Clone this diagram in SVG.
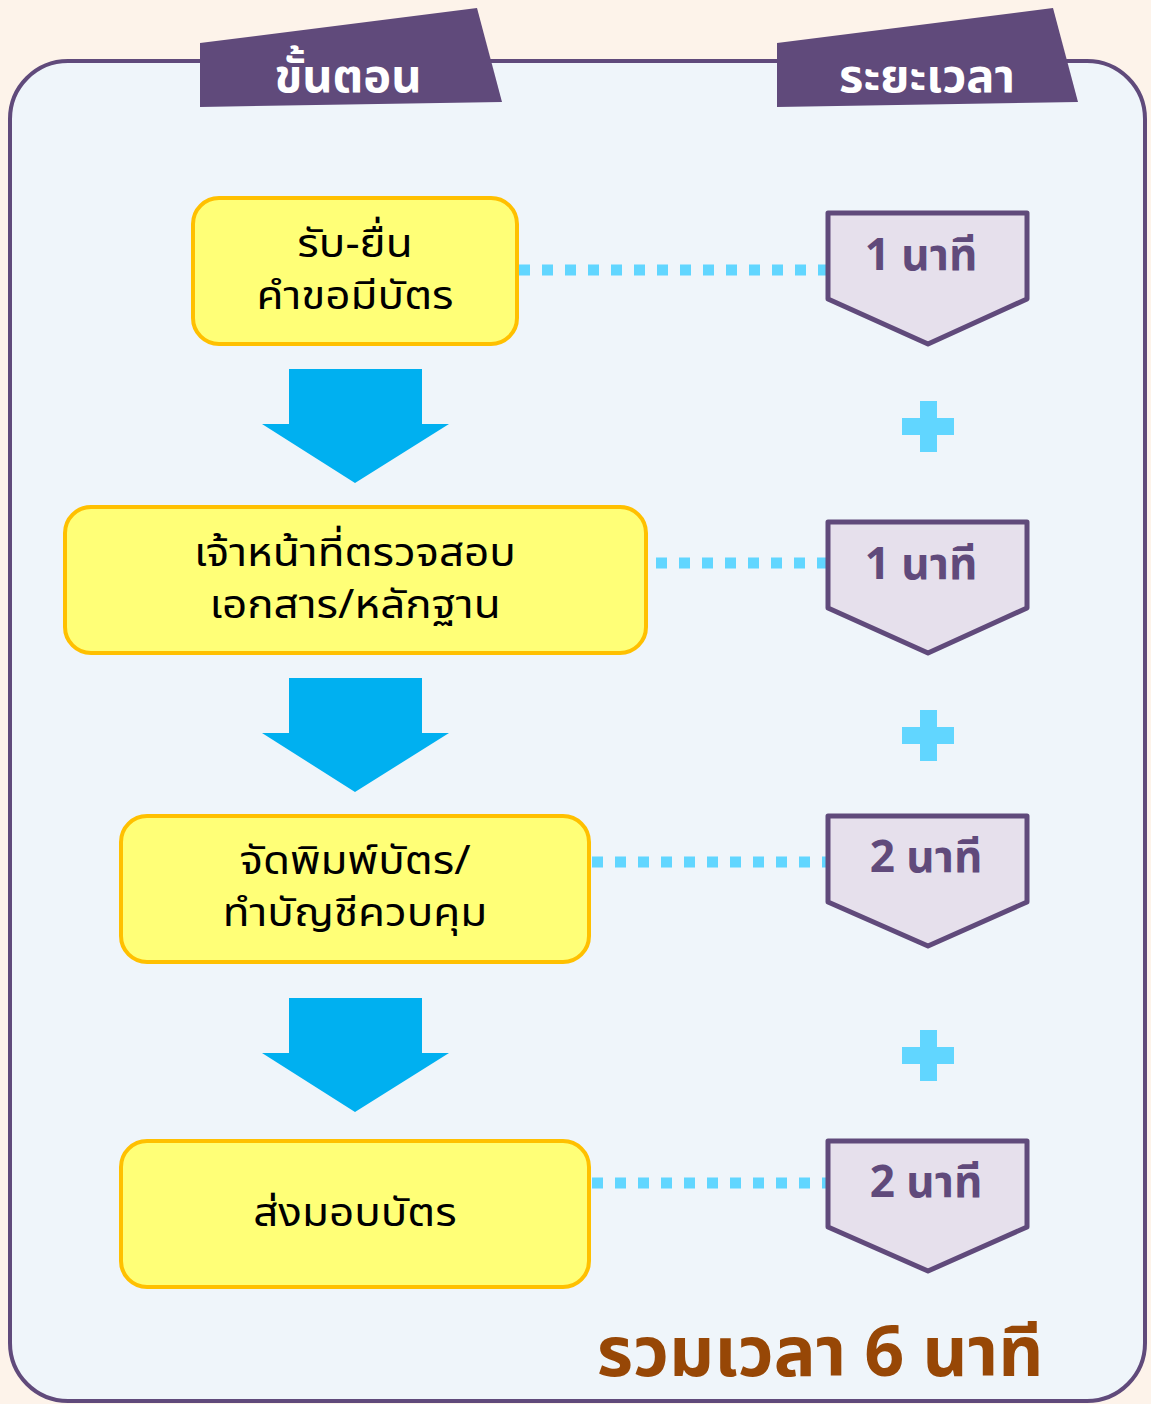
<svg xmlns="http://www.w3.org/2000/svg" width="1151" height="1404" viewBox="0 0 1151 1404">
<defs>
<style>
.step rect{fill:#ffff77;stroke:#ffc000;stroke-width:4}
.step text{font-family:"Noto Sans Thai","Noto Sans","Liberation Sans",sans-serif;font-size:40px;fill:#000;text-anchor:middle}
.badge path{fill:#e6e0ec;stroke:#604a7b;stroke-width:5;stroke-linejoin:round}
.badge text{font-family:"Noto Sans Thai","Noto Sans","Liberation Sans",sans-serif;font-size:44px;font-weight:bold;fill:#604a7b;text-anchor:middle}
.hdr text{font-family:"Noto Sans Thai","Noto Sans","Liberation Sans",sans-serif;font-size:47px;font-weight:bold;fill:#fff;text-anchor:middle}
.dot{stroke:#61d6ff;stroke-width:11;stroke-dasharray:11 12;fill:none}
.arrow{fill:#00b0f0}
.plus{fill:#61d6ff}
</style>
</defs>
<rect x="0" y="0" width="1151" height="1404" fill="#fdf3ea"/>
<rect id="frame" x="10" y="61" width="1135" height="1340" rx="58" fill="#eff5fa" stroke="#604a7b" stroke-width="4"/>
<g id="header-steps" class="hdr">
<polygon points="200,43 477,8 502,102 200,107" fill="#604a7b"/>
<text x="348" y="92">ขั้นตอน</text>
</g>
<g id="header-time" class="hdr">
<polygon points="777,43 1053,8 1078,102 777,107" fill="#604a7b"/>
<text x="927" y="92">ระยะเวลา</text>
</g>
<g id="connectors">
<line class="dot" x1="519" y1="270" x2="826" y2="270"/>
<line class="dot" x1="656" y1="563" x2="826" y2="563"/>
<line class="dot" x1="592" y1="862" x2="826" y2="862"/>
<line class="dot" x1="592" y1="1183" x2="826" y2="1183"/>
<polygon class="arrow" points="289,369 422,369 422,424 449,424 355,483 262,424 289,424"/>
<polygon class="arrow" points="289,678 422,678 422,733 449,733 355,792 262,733 289,733"/>
<polygon class="arrow" points="289,998 422,998 422,1053 449,1053 355,1112 262,1053 289,1053"/>
</g>
<g id="step1" class="step">
<rect x="193" y="198" width="324" height="146" rx="26"/>
<text transform="translate(355,257) scale(1.1,1)">รับ-ยื่น</text>
<text transform="translate(355,309) scale(1.1,1)">คำขอมีบัตร</text>
</g>
<g id="step2" class="step">
<rect x="65" y="507" width="581" height="146" rx="26"/>
<text transform="translate(355,566) scale(1.1,1)">เจ้าหน้าที่ตรวจสอบ</text>
<text transform="translate(355,618) scale(1.1,1)">เอกสาร/หลักฐาน</text>
</g>
<g id="step3" class="step">
<rect x="121" y="816" width="468" height="146" rx="26"/>
<text transform="translate(355,874) scale(1.1,1)">จัดพิมพ์บัตร/</text>
<text transform="translate(355,926) scale(1.1,1)">ทำบัญชีควบคุม</text>
</g>
<g id="step4" class="step">
<rect x="121" y="1141" width="468" height="146" rx="26"/>
<text transform="translate(355,1226) scale(1.1,1)">ส่งมอบบัตร</text>
</g>
<g id="time1" class="badge">
<path d="M828,213 H1027 V299 L928,344 L828,299 Z"/>
<text x="921" y="270">1 นาที</text>
</g>
<g id="time2" class="badge">
<path d="M828,522 H1027 V608 L928,653 L828,608 Z"/>
<text x="921" y="579">1 นาที</text>
</g>
<g id="time3" class="badge">
<path d="M828,816 H1027 V902 L928,946 L828,902 Z"/>
<text x="926" y="872">2 นาที</text>
</g>
<g id="time4" class="badge">
<path d="M828,1141 H1027 V1227 L928,1271 L828,1227 Z"/>
<text x="926" y="1197">2 นาที</text>
</g>
<g id="plus1" class="plus">
<rect x="920" y="401" width="17" height="51"/>
<rect x="902" y="418" width="52" height="17"/>
</g>
<g id="plus2" class="plus">
<rect x="920" y="710" width="17" height="51"/>
<rect x="902" y="727" width="52" height="17"/>
</g>
<g id="plus3" class="plus">
<rect x="920" y="1030" width="17" height="51"/>
<rect x="902" y="1047" width="52" height="17"/>
</g>
<g id="total">
<text x="820" y="1376" font-family="'Noto Sans Thai','Noto Sans','Liberation Sans',sans-serif" font-size="70" font-weight="bold" fill="#974706" text-anchor="middle">รวมเวลา 6 นาที</text>
</g>
</svg>
